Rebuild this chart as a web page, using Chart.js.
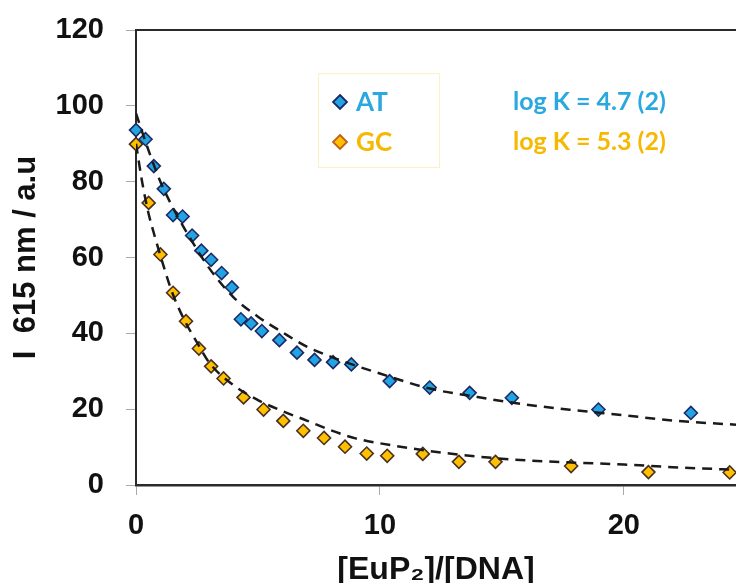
<!DOCTYPE html>
<html>
<head>
<meta charset="utf-8">
<script src="https://cdn.jsdelivr.net/npm/chart.js@4.4.1/dist/chart.umd.min.js"></script>
<style>
  html, body { margin: 0; padding: 0; background: #fff; }
  #wrap { width: 736px; height: 583px; }
</style>
</head>
<body>
<div id="wrap"><canvas id="titration" width="736" height="583"></canvas></div>
<script>
// measured points, I(615 nm) vs [EuP2]/[DNA]
const seriesNames = ["AT", "GC"];
const logK = ["log K = 4.7 (2)", "log K = 5.3 (2)"];

const atX = [0, 0.39, 0.73, 1.14, 1.52, 1.91, 2.30, 2.68, 3.08, 3.51, 3.93, 4.30, 4.72, 5.16, 5.88,
             6.60, 7.32, 8.08, 8.83, 10.40, 12.04, 13.68, 15.41, 18.96, 22.75];
const atY = [93.6, 91.2, 84.1, 78.1, 71.2, 70.8, 65.8, 61.8, 59.4, 55.9, 52.1, 43.7, 42.6, 40.6, 38.2,
             34.9, 33.0, 32.4, 31.8, 27.4, 25.7, 24.3, 23.0, 19.9, 19.0];

const gcX = [0, 0.52, 1.0, 1.52, 2.05, 2.58, 3.08, 3.59, 4.41, 5.23, 6.04, 6.86, 7.71, 8.57, 9.46,
             10.30, 11.76, 13.24, 14.74, 17.84, 21.01, 24.34];
const gcY = [89.9, 74.4, 60.8, 50.7, 43.2, 36.0, 31.3, 28.1, 23.1, 19.9, 16.9, 14.3, 12.4, 10.1, 8.3,
             7.7, 8.2, 6.1, 6.1, 5.0, 3.4, 3.3];

// fitted curves
const atFitX = [0, 0.5, 1, 1.5, 2, 3, 4, 5, 6, 7, 8, 9, 10, 12, 14, 16, 18, 20, 22, 24.6];
const atFitY = [98, 88.5, 80, 73.3, 67.5, 57.2, 49.5, 44.4, 40.3, 36.5, 33.8, 31.5, 29.4, 25.5, 23.2,
                21.2, 19.7, 18.4, 17.0, 15.9];
const gcFitX = [0, 0.25, 0.5, 0.75, 1, 1.5, 2, 2.5, 3, 4, 5, 6, 7, 8, 9, 10, 12, 14, 16, 18, 20, 22, 24.6];
const gcFitY = [90, 80, 72, 66, 60.5, 50.5, 43.3, 37.6, 32.3, 26.3, 22.4, 19.5, 17.0, 14.4, 12.3, 11.0,
                9.0, 7.5, 6.5, 5.9, 5.4, 4.7, 4.0];

const colors = {
  AT: { fill: "#22a3e2", edge: "#1b2a66", text: "#2aa8e0", legendEdge: "#1b2a66" },
  GC: { fill: "#ffc000", edge: "#4a3020", text: "#f7b800", legendEdge: "#c0601a" }
};

function pts(xs, ys) {
  return xs.map((x, i) => ({ x: x, y: ys[i] }));
}

function fitLine(xs, ys) {
  return {
    data: pts(xs, ys),
    showLine: true,
    pointRadius: 0,
    borderColor: "#1a1a1a",
    borderWidth: 2.5,
    borderDash: [10, 7],
    cubicInterpolationMode: "monotone",
    fill: false,
    order: 0
  };
}

function marks(name, xs, ys) {
  return {
    label: name,
    data: pts(xs, ys),
    pointStyle: "rectRot",
    pointRadius: 6.5,
    pointBorderWidth: 1.6,
    backgroundColor: colors[name].fill,
    borderColor: colors[name].edge,
    showLine: false,
    clip: false,
    order: 1
  };
}

// legend box + log K labels
const notes = {
  id: "notes",
  afterDraw(chart) {
    const ctx = chart.ctx;
    const ca = chart.chartArea;
    ctx.save();
    ctx.strokeStyle = "#fdf0c8";
    ctx.lineWidth = 1;
    ctx.strokeRect(318.5, 73.5, 121, 94);
    seriesNames.forEach((name, i) => {
      const y = 102 + i * 40;
      const c = colors[name];
      ctx.beginPath();
      ctx.moveTo(340, y - 7);
      ctx.lineTo(347, y);
      ctx.lineTo(340, y + 7);
      ctx.lineTo(333, y);
      ctx.closePath();
      ctx.fillStyle = c.fill;
      ctx.fill();
      ctx.lineWidth = 1.8;
      ctx.strokeStyle = c.legendEdge;
      ctx.stroke();
      ctx.fillStyle = c.text;
      ctx.textBaseline = "middle";
      ctx.textAlign = "left";
      ctx.font = "bold 26px Lato";
      ctx.fillText(name, 356, y + 1);
      ctx.font = "bold 25px Lato";
      ctx.fillText(logK[i], 513, y);
    });
    // top frame line of the plot box
    ctx.strokeStyle = "#2a2a2a";
    ctx.lineWidth = 1.8;
    ctx.beginPath();
    ctx.moveTo(ca.left, ca.top);
    ctx.lineTo(ca.right, ca.top);
    ctx.stroke();
    ctx.restore();
  }
};

const tickFont = { family: "'Liberation Sans', Arial, sans-serif", size: 29, weight: "bold" };

const chart = new Chart("titration", {
  type: "scatter",
  data: {
    datasets: [
      fitLine(atFitX, atFitY),
      fitLine(gcFitX, gcFitY),
      marks("AT", atX, atY),
      marks("GC", gcX, gcY)
    ]
  },
  options: {
    responsive: false,
    animation: false,
    devicePixelRatio: 1,
    layout: { autoPadding: false, padding: { top: 30, right: 0, bottom: 0, left: 0 } },
    plugins: {
      legend: { display: false },
      tooltip: { enabled: false }
    },
    scales: {
      x: {
        type: "linear",
        min: 0,
        max: 24.6,
        afterFit(scale) {
          scale.height = 98;
          scale.paddingLeft = 0;
          scale.paddingRight = 0;
        },
        ticks: { stepSize: 10, includeBounds: false, font: tickFont, color: "#111", padding: 14, maxRotation: 0 },
        grid: { display: true, drawOnChartArea: false, drawTicks: true, tickLength: 10, color: "#aaa" },
        border: { display: true, color: "#2a2a2a", width: 2.5 },
        title: {
          display: true,
          text: "[EuP₂]/[DNA]",
          color: "#111",
          font: { family: "'Liberation Sans', Arial, sans-serif", size: 32, weight: "bold", lineHeight: 0.8 },
          padding: 0
        }
      },
      y: {
        min: 0,
        max: 120,
        afterFit(scale) {
          scale.width = 136;
          scale.paddingTop = 0;
          scale.paddingBottom = 0;
        },
        ticks: { stepSize: 20, font: tickFont, color: "#111", padding: 22 },
        grid: { display: true, drawOnChartArea: false, drawTicks: true, tickLength: 10, color: "#aaa" },
        border: { display: true, color: "#2a2a2a", width: 2 },
        title: {
          display: true,
          text: "I  615 nm / a.u",
          color: "#111",
          font: { family: "'Liberation Sans', Arial, sans-serif", size: 31, weight: "bold" },
          padding: { top: 8, bottom: 0 }
        }
      }
    }
  },
  plugins: [notes]
});
</script>
</body>
</html>
